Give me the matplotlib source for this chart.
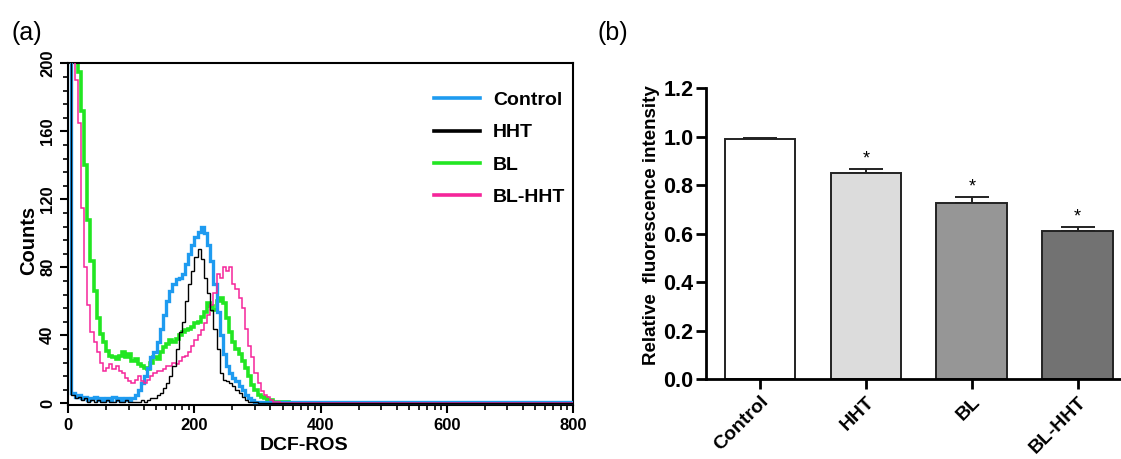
import numpy as np
import matplotlib
matplotlib.use("Agg")
import matplotlib.pyplot as plt
from matplotlib.ticker import FixedLocator

plt.rcParams['font.family'] = ['Liberation Sans', 'DejaVu Sans']

# ---------------- data: panel (a) flow-cytometry histograms ----------------
bin_width = 5
# counts per 5-unit bin starting at 0 (0-345); last value = flat tail 350-800
control = [250, 6, 4, 5, 3, 4, 2, 3, 4, 2, 3, 2, 3, 2, 4, 2, 3, 2, 3, 2,
           3, 5, 8, 12, 16, 21, 27, 30, 36, 44, 52, 60, 66, 70, 73, 74, 76, 82, 88, 93,
           98, 101, 104, 100, 93, 84, 70, 54, 40, 29, 22, 18, 15, 13, 10, 8, 5, 3, 2, 1,
           1, 0.5, 0.5, 0.5, 0.5, 0.5, 0.5, 0.5, 0.5, 0.5, 0.5]
hht = [250, 5, 3, 4, 2, 3, 1, 2, 1, 2, 1, 1, 2, 1, 1, 2, 1, 1, 2, 1,
       1, 1, 1, 2, 1, 2, 3, 3, 5, 6, 9, 12, 16, 22, 32, 42, 48, 60, 70, 78,
       86, 91, 85, 74, 65, 55, 44, 32, 18, 14, 13, 12, 10, 8, 6, 4, 2, 1, 1, 0.5,
       0.3, 0.3, 0.3, 0.3, 0.3, 0.3, 0.3, 0.3, 0.3, 0.3, 0.3]
bl = [250, 250, 250, 195, 172, 140, 108, 84, 66, 50, 41, 36, 31, 28, 27, 26, 28, 30, 27, 29,
      25, 26, 23, 22, 21, 20, 24, 27, 26, 30, 33, 35, 37, 36, 38, 40, 42, 43, 44, 45,
      47, 48, 51, 54, 59, 57, 55, 60, 62, 59, 50, 42, 36, 32, 29, 25, 21, 16, 11, 8,
      5, 4, 3, 2, 2, 1, 1, 1, 1, 0.5, 0.3]
bl_hht = [250, 250, 190, 165, 115, 80, 58, 42, 36, 30, 24, 19, 21, 23, 20, 22, 19, 18, 15, 13,
          12, 14, 16, 13, 12, 14, 16, 18, 19, 19, 20, 22, 22, 24, 23, 25, 27, 28, 30, 34,
          37, 40, 43, 47, 52, 58, 65, 76, 74, 80, 78, 80, 70, 67, 62, 56, 44, 34, 27, 18,
          12, 7, 5, 4, 2, 1, 0.5, 0.3, 0.3, 0.3, 0.3]
x_max = 800

series_names = ["Control", "HHT", "BL", "BL-HHT"]
series_data = [control, hht, bl, bl_hht]
series_colors = ["#1E9BF0", "#000000", "#22E622", "#F5259A"]
series_lw = [2.4, 1.0, 2.6, 1.1]
series_z = [3, 5, 2, 4]

# ---------------- data: panel (b) bar chart ----------------
groups = ["Control", "HHT", "BL", "BL-HHT"]
means = [0.991, 0.852, 0.728, 0.612]
errors = [0.004, 0.016, 0.024, 0.017]
significant = [False, True, True, True]
bar_colors = ["#FFFFFF", "#DCDCDC", "#969696", "#727272"]

# ---------------- figure ----------------
fig = plt.figure(figsize=(11.21, 4.59), dpi=100)

# panel (a)
axa = fig.add_axes([68.3 / 1121, (459 - 404.5) / 459, 504.7 / 1121, 341.2 / 459])
for name, vals, col, lw, z in zip(series_names, series_data, series_colors, series_lw, series_z):
    n = len(vals)
    edges = np.append(np.arange(n) * bin_width, x_max)
    axa.stairs(vals, edges, color=col, lw=lw, zorder=z, label=name, baseline=None)

axa.set_xlim(0, 800)
axa.set_ylim(-0.7, 200)
axa.set_xticks([0, 200, 400, 600, 800])
minor_x = []
for dec in range(0, 800, 200):
    for k in range(2, 10):
        minor_x.append(dec + 200 * np.log10(k))
axa.xaxis.set_minor_locator(FixedLocator(minor_x))
axa.set_yticks([0, 40, 80, 120, 160, 200])
axa.yaxis.set_minor_locator(FixedLocator(np.arange(0, 201, 8)))
axa.tick_params(axis='both', which='major', direction='out', length=6, width=1.5,
                labelsize=12)
axa.tick_params(axis='both', which='minor', direction='out', length=3.5, width=1.2)
for lab in axa.get_yticklabels():
    lab.set_rotation(90)
    lab.set_va('center')
    lab.set_fontweight('bold')
for lab in axa.get_xticklabels():
    lab.set_fontweight('bold')
for sp in axa.spines.values():
    sp.set_linewidth(1.5)
axa.set_xlabel("DCF-ROS", fontsize=14, fontweight='bold')
axa.xaxis.set_label_coords((304 - 68.3) / 504.7, -0.095)
axa.set_ylabel("Counts", fontsize=14.5, fontweight='bold')
axa.yaxis.set_label_coords((38 - 68.3) / 504.7, (403.3 - 240) / 340)

leg = axa.legend(loc='upper right', frameon=False,
                 prop={'weight': 'bold', 'size': 14}, handlelength=2.4,
                 handletextpad=0.65, labelspacing=0.75, borderaxespad=0.0,
                 bbox_to_anchor=(1.0, 0.94))
for h in leg.get_lines():
    h.set_linewidth(2.6)

fig.text(12 / 1121, 1 - 33 / 459, "(a)", fontsize=18, va='center', ha='left')
fig.text(598 / 1121, 1 - 33 / 459, "(b)", fontsize=18, va='center', ha='left')

# panel (b)
axb = fig.add_axes([706 / 1121, (459 - 379.3) / 459, 414 / 1121, 291 / 459])
xpos = np.arange(len(groups))
axb.bar(xpos, means, width=0.667, color=bar_colors, edgecolor='#222222', linewidth=1.4,
        zorder=2)
axb.errorbar(xpos, means, yerr=[np.zeros(len(errors)), errors], fmt='none',
             ecolor='#222222', elinewidth=1.4, capsize=12.5, capthick=1.4, zorder=1)
for x, m, e, s in zip(xpos, means, errors, significant):
    if s:
        axb.text(x, m + e + 0.004, "*", ha='center', va='bottom', fontsize=13)

axb.set_xlim(-0.51, 3.4)
axb.set_ylim(0, 1.2)
axb.set_yticks(np.arange(0, 1.21, 0.2))
axb.set_yticklabels([f"{v:.1f}" for v in np.arange(0, 1.21, 0.2)],
                    fontsize=15.5, fontweight='bold')
axb.set_xticks(xpos)
axb.set_xticklabels(groups, rotation=45, ha='right', rotation_mode='anchor',
                    fontsize=14, fontweight='bold')
axb.tick_params(axis='both', direction='out', length=7, width=2)
axb.tick_params(axis='x', pad=3)
axb.tick_params(axis='y', pad=2)
axb.spines['right'].set_visible(False)
axb.spines['top'].set_visible(False)
axb.spines['left'].set_linewidth(2)
axb.spines['bottom'].set_linewidth(2)
axb.set_ylabel("Relative  fluorescence intensity", fontsize=13.5, fontweight='bold')
axb.yaxis.set_label_coords((660 - 706) / 414, (379.3 - 225) / 291)

fig.savefig("out.png", dpi=100)
